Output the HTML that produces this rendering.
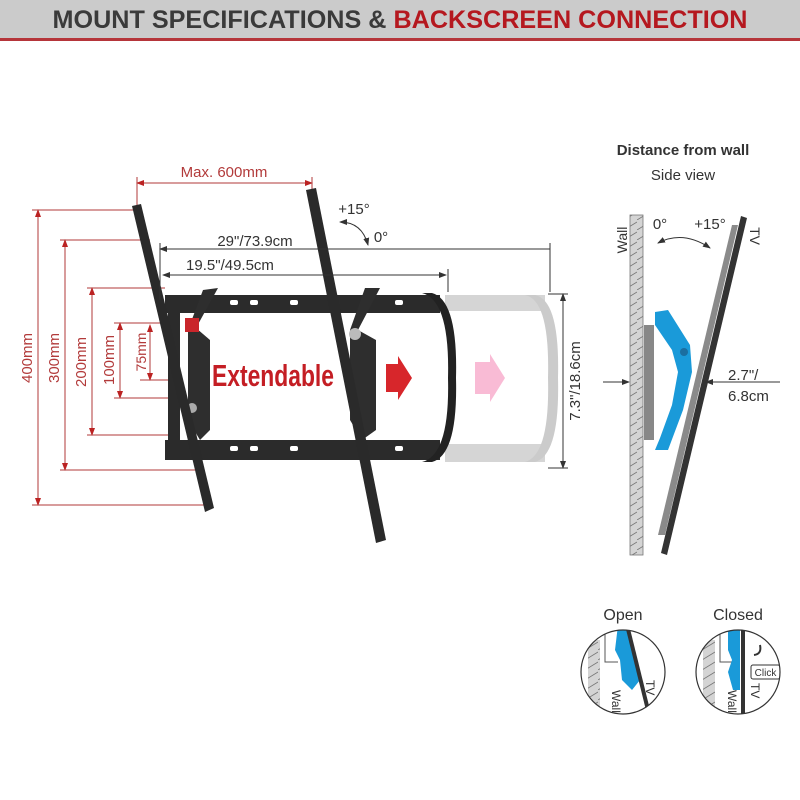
<!DOCTYPE html>
<html><head><meta charset="utf-8"><style>
html,body{margin:0;padding:0;background:#fff;}
svg{display:block;font-family:"Liberation Sans",sans-serif;}
</style></head><body>
<svg width="800" height="800" viewBox="0 0 800 800" xmlns="http://www.w3.org/2000/svg">
<defs>
<pattern id="hatch" width="13" height="10" patternUnits="userSpaceOnUse">
<rect width="13" height="10" fill="#d4d4d4"/>
<line x1="0" y1="10" x2="13" y2="2" stroke="#777" stroke-width="0.8"/>
</pattern>
<clipPath id="c1"><circle cx="623" cy="672" r="42"/></clipPath>
<clipPath id="c2"><circle cx="738" cy="672" r="42"/></clipPath>
<marker id="ar" markerWidth="8" markerHeight="8" refX="7" refY="4" orient="auto"><path d="M0,1 L8,4 L0,7z" fill="#333"/></marker>
<marker id="al" markerWidth="8" markerHeight="8" refX="1" refY="4" orient="auto"><path d="M8,1 L0,4 L8,7z" fill="#333"/></marker>
<marker id="rr" markerWidth="8" markerHeight="8" refX="7" refY="4" orient="auto"><path d="M0,1 L8,4 L0,7z" fill="#b22"/></marker>
<marker id="rl" markerWidth="8" markerHeight="8" refX="1" refY="4" orient="auto"><path d="M8,1 L0,4 L8,7z" fill="#b22"/></marker>
</defs>
<rect x="0" y="0" width="800" height="38" fill="#cbcbcb"/>
<rect x="0" y="38" width="800" height="3" fill="#b5353a"/>
<text x="400" y="28" text-anchor="middle" font-size="25" font-weight="bold" textLength="695" lengthAdjust="spacingAndGlyphs"><tspan fill="#3a3a3a">MOUNT SPECIFICATIONS &amp; </tspan><tspan fill="#b5181f">BACKSCREEN CONNECTION</tspan></text>

<g stroke="#b23a3a" stroke-width="1" fill="none">
<line x1="38" y1="210" x2="38" y2="505" marker-start="url(#rl)" marker-end="url(#rr)"/>
<line x1="65" y1="240" x2="65" y2="470" marker-start="url(#rl)" marker-end="url(#rr)"/>
<line x1="92" y1="288" x2="92" y2="435" marker-start="url(#rl)" marker-end="url(#rr)"/>
<line x1="120" y1="323" x2="120" y2="398" marker-start="url(#rl)" marker-end="url(#rr)"/>
<line x1="150" y1="325" x2="150" y2="380" marker-start="url(#rl)" marker-end="url(#rr)"/>
<line x1="32" y1="210" x2="140" y2="210"/><line x1="32" y1="505" x2="210" y2="505"/>
<line x1="60" y1="240" x2="150" y2="240"/><line x1="60" y1="470" x2="195" y2="470"/>
<line x1="87" y1="288" x2="165" y2="288"/><line x1="87" y1="435" x2="180" y2="435"/>
<line x1="114" y1="323" x2="170" y2="323"/><line x1="114" y1="398" x2="175" y2="398"/>
<line x1="140" y1="380" x2="175" y2="380"/>
<line x1="137" y1="183" x2="312" y2="183" marker-start="url(#rl)" marker-end="url(#rr)"/>
<line x1="137" y1="177" x2="137" y2="205"/><line x1="312" y1="177" x2="312" y2="192"/>
</g>
<g fill="#b23a3a" font-size="15">
<text transform="translate(32,358) rotate(-90)" text-anchor="middle">400mm</text>
<text transform="translate(59,358) rotate(-90)" text-anchor="middle">300mm</text>
<text transform="translate(86,362) rotate(-90)" text-anchor="middle">200mm</text>
<text transform="translate(114,360) rotate(-90)" text-anchor="middle">100mm</text>
<text transform="translate(146,352) rotate(-90)" text-anchor="middle" font-size="14">75mm</text>
<text x="224" y="177" text-anchor="middle">Max. 600mm</text>
</g>

<g opacity="0.3">
<rect x="445" y="295" width="100" height="16" fill="#777"/>
<rect x="445" y="444" width="100" height="18" fill="#777"/>
<path d="M525,295 Q550,300 548,378 Q550,455 525,462 L535,462 Q560,455 558,378 Q560,300 535,295z" fill="#555"/>
<path d="M475,362 L490,362 L490,354 L505,378 L490,402 L490,394 L475,394z" fill="#e27"/>
</g>
<rect x="165" y="295" width="275" height="18" fill="#2b2b2b"/>
<rect x="165" y="440" width="275" height="20" fill="#2b2b2b"/>
<rect x="168" y="310" width="12" height="135" fill="#2b2b2b"/>
<path d="M422,293 Q450,300 448,378 Q450,455 422,462 L432,462 Q458,455 456,378 Q458,300 432,293z" fill="#222"/>
<g fill="#fff">
<rect x="230" y="300" width="8" height="5" rx="2"/><rect x="250" y="300" width="8" height="5" rx="2"/><rect x="290" y="300" width="8" height="5" rx="2"/><rect x="395" y="300" width="8" height="5" rx="2"/>
<rect x="230" y="446" width="8" height="5" rx="2"/><rect x="250" y="446" width="8" height="5" rx="2"/><rect x="290" y="446" width="8" height="5" rx="2"/><rect x="395" y="446" width="8" height="5" rx="2"/>
</g>
<text x="212" y="386" font-size="31" font-weight="bold" fill="#c41e24" textLength="122" lengthAdjust="spacingAndGlyphs">Extendable</text>
<path d="M386,364 L398,364 L398,356 L412,378 L398,400 L398,392 L386,392z" fill="#d7262b"/>
<path d="M203,290 L218,288 L196,328 L210,340 L210,430 L200,440 L188,420 L188,330z" fill="#2e2e2e"/>
<path d="M365,288 L380,288 L358,330 L376,340 L376,430 L362,440 L350,420 L350,330z" fill="#2e2e2e"/>
<rect x="185" y="318" width="14" height="14" fill="#c9262b"/>
<circle cx="192" cy="408" r="5" fill="#aaa"/><circle cx="355" cy="334" r="6" fill="#bbb"/>
<polygon points="132,206 141,204 214,508 205,512" fill="#2a2a2a"/>
<polygon points="306,190 316,188 386,540 376,543" fill="#2a2a2a"/>
<g stroke="#333" stroke-width="1" fill="none">
<line x1="160" y1="249" x2="550" y2="249" marker-start="url(#al)"/>
<line x1="550" y1="243" x2="550" y2="292"/>
<line x1="160" y1="243" x2="160" y2="300"/>
<line x1="163" y1="275" x2="446" y2="275" marker-start="url(#al)" marker-end="url(#ar)"/>
<line x1="448" y1="269" x2="448" y2="292"/>
<line x1="563" y1="294" x2="563" y2="468" marker-start="url(#al)" marker-end="url(#ar)"/>
<line x1="548" y1="294" x2="568" y2="294"/><line x1="548" y1="468" x2="568" y2="468"/>
<path d="M340,222 Q362,222 368,245" marker-end="url(#ar)" marker-start="url(#al)"/>
</g>
<g fill="#333" font-size="15">
<text x="255" y="246" text-anchor="middle">29"/73.9cm</text>
<text x="230" y="270" text-anchor="middle">19.5"/49.5cm</text>
<text x="354" y="214" text-anchor="middle">+15°</text>
<text x="381" y="242" text-anchor="middle">0°</text>
<text transform="translate(580,381) rotate(-90)" text-anchor="middle">7.3"/18.6cm</text>
</g>

<text x="683" y="155" text-anchor="middle" font-size="15" font-weight="bold" fill="#333">Distance from wall</text>
<text x="683" y="180" text-anchor="middle" font-size="15" fill="#333">Side view</text>
<rect x="630" y="215" width="13" height="340" fill="url(#hatch)" stroke="#777" stroke-width="0.8"/>
<text transform="translate(627,240) rotate(-90)" text-anchor="middle" font-size="14" fill="#333">Wall</text>
<text x="660" y="229" text-anchor="middle" font-size="15" fill="#333">0°</text>
<text x="710" y="229" text-anchor="middle" font-size="15" fill="#333">+15°</text>
<text transform="translate(750,236) rotate(90)" text-anchor="middle" font-size="14" fill="#333">TV</text>
<path d="M658,243 Q683,230 710,248" stroke="#333" fill="none" marker-start="url(#al)" marker-end="url(#ar)"/>
<rect x="644" y="325" width="10" height="115" fill="#888"/>
<polygon points="732,225 738,225 665,535 658,535" fill="#8a8a8a"/>
<polygon points="741,216 747,218 667,555 661,553" fill="#333"/>
<path d="M655,312 L668,310 L690,345 L692,372 L683,410 L668,450 L655,450 L660,438 L672,405 L678,372 L672,350 L655,325z" fill="#1a9ad9"/>
<circle cx="684" cy="352" r="4" fill="#1b6ea0"/>
<g stroke="#333" fill="none">
<line x1="603" y1="382" x2="629" y2="382" marker-end="url(#ar)"/>
<line x1="780" y1="382" x2="706" y2="382" marker-end="url(#ar)"/>
</g>
<text x="728" y="380" font-size="15" fill="#333">2.7"/</text>
<text x="728" y="401" font-size="15" fill="#333">6.8cm</text>

<text x="623" y="620" text-anchor="middle" font-size="16" fill="#333">Open</text>
<text x="738" y="620" text-anchor="middle" font-size="16" fill="#333">Closed</text>
<circle cx="623" cy="672" r="42" fill="#fff"/>
<g clip-path="url(#c1)">
<rect x="588" y="640" width="12" height="70" fill="url(#hatch)"/>
<path d="M605,625 L605,662 L618,662" stroke="#555" fill="none"/>
<path d="M618,625 L628,625 L640,680 L632,690 L622,680 L620,660 L615,650z" fill="#1a9ad9"/>
<line x1="627" y1="625" x2="648" y2="710" stroke="#333" stroke-width="4"/>
<text transform="translate(612,690) rotate(90)" font-size="12" fill="#333">Wall</text>
<text transform="translate(646,680) rotate(90)" font-size="12" fill="#333">TV</text>
</g>
<circle cx="623" cy="672" r="42" fill="none" stroke="#333" stroke-width="1.2"/>
<circle cx="738" cy="672" r="42" fill="#fff"/>
<g clip-path="url(#c2)">
<rect x="703" y="640" width="12" height="70" fill="url(#hatch)"/>
<path d="M720,625 L720,662 L733,662" stroke="#555" fill="none"/>
<path d="M728,625 L740,625 L740,690 L733,690 L728,672 L732,660 L728,650z" fill="#1a9ad9"/>
<line x1="743" y1="625" x2="743" y2="715" stroke="#333" stroke-width="4"/>
<text transform="translate(728,690) rotate(90)" font-size="12" fill="#333">Wall</text>
<text transform="translate(751,683) rotate(90)" font-size="12" fill="#333">TV</text>
<rect x="751" y="665" width="29" height="14" fill="#fff" stroke="#333" rx="2"/>
<text x="765.5" y="676" text-anchor="middle" font-size="10" fill="#333">Click</text>
<path d="M760,645 Q762,654 754,655" stroke="#333" stroke-width="2" fill="none"/>
</g>
<circle cx="738" cy="672" r="42" fill="none" stroke="#333" stroke-width="1.2"/>
</svg>
</body></html>
